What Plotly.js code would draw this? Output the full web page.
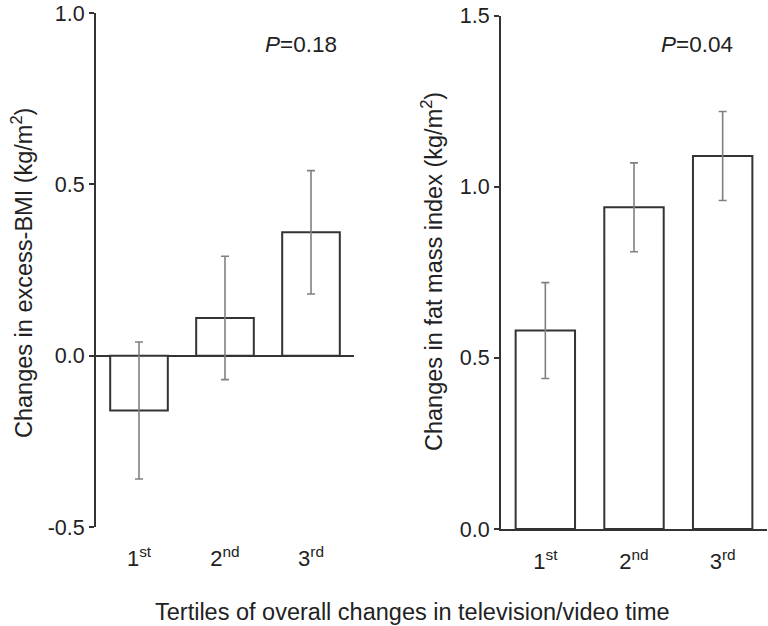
<!DOCTYPE html>
<html>
<head>
<meta charset="utf-8">
<script src="https://cdn.plot.ly/plotly-3.0.1.min.js"></script>
<style>html,body{margin:0;padding:0;background:#fff;}#chart{width:768px;height:626px;}</style>
</head>
<body>
<div id="chart"></div>
<script>
var categories = ['1st', '2nd', '3rd'];
var tickLabels = ['1<sup>st</sup>', '2<sup>nd</sup>', '3<sup>rd</sup>'];
var excessBMI = [-0.16, 0.11, 0.36];
var excessBMIErr = [0.20, 0.18, 0.18];
var fatMassIndex = [0.58, 0.94, 1.09];
var fatMassIndexErr = [0.14, 0.13, 0.13];
var yTickValsLeft = [-0.5, 0.0, 0.5, 1.0];
var yTickTextLeft = ['-0.5', '0.0', '0.5', '1.0'];
var yTickValsRight = [0.0, 0.5, 1.0, 1.5];
var yTickTextRight = ['0.0', '0.5', '1.0', '1.5'];
var pLeft = '<i>P</i>=0.18';
var pRight = '<i>P</i>=0.04';
var yTitleLeft = 'Changes in excess-BMI (kg/m<sup>2</sup>)';
var yTitleRight = 'Changes in fat mass index (kg/m<sup>2</sup>)';
var xTitle = 'Tertiles of overall changes in television/video time';

var FONT = 'Liberation Sans, Arial, Helvetica, sans-serif';
var LINE = '#333333';
var TEXT = '#222222';

function barTrace(y, err, xa, ya) {
  return {
    type: 'bar', x: categories, y: y, xaxis: xa, yaxis: ya,
    width: 0.67,
    marker: {color: '#ffffff', line: {color: LINE, width: 2}},
    error_y: {type: 'data', array: err, visible: true, color: '#808080', thickness: 1.6, width: 4},
    showlegend: false, hoverinfo: 'none'
  };
}

var data = [
  barTrace(excessBMI, excessBMIErr, 'x', 'y'),
  barTrace(fatMassIndex, fatMassIndexErr, 'x2', 'y2')
];

var W = 768, H = 626;
function xd(a, b) { return [a / W, b / W]; }
function yd(top, bottom) { return [(H - bottom) / H, (H - top) / H]; }

var xCommon = {
  type: 'category', range: [-0.5, 2.5], tickvals: categories, ticktext: tickLabels,
  showgrid: false, zeroline: false, ticks: 'outside', ticklen: 12, tickcolor: 'rgba(0,0,0,0)',
  tickfont: {family: FONT, size: 22, color: TEXT}, fixedrange: true
};
var yCommon = {
  showgrid: false, showline: true, linecolor: LINE, linewidth: 2,
  ticks: 'outside', ticklen: 5, tickwidth: 2, tickcolor: LINE,
  tickfont: {family: FONT, size: 21.5, color: TEXT}, fixedrange: true
};

function ann(text, x, y, size, angle) {
  return {text: text, xref: 'paper', yref: 'paper', x: x / W, y: 1 - y / H, showarrow: false,
    textangle: angle || 0, xanchor: 'center', yanchor: 'middle', font: {family: FONT, size: size, color: TEXT}};
}

var layout = {
  width: W, height: H,
  margin: {l: 0, r: 0, t: 0, b: 0},
  paper_bgcolor: '#ffffff', plot_bgcolor: 'rgba(0,0,0,0)',
  xaxis: Object.assign({}, xCommon, {domain: xd(96, 354), anchor: 'y', showline: false}),
  yaxis: Object.assign({}, yCommon, {domain: yd(13, 527), anchor: 'x', range: [-0.5, 1.0],
    tickmode: 'array', tickvals: yTickValsLeft, ticktext: yTickTextLeft,
    zeroline: true, zerolinecolor: LINE, zerolinewidth: 2}),
  xaxis2: Object.assign({}, xCommon, {domain: xd(501, 767), anchor: 'y2', showline: true, linecolor: LINE, linewidth: 2}),
  yaxis2: Object.assign({}, yCommon, {domain: yd(15.7, 529), anchor: 'x2', range: [0, 1.5],
    tickmode: 'array', tickvals: yTickValsRight, ticktext: yTickTextRight, zeroline: false}),
  annotations: [
    ann(pLeft, 301, 45, 22.5),
    ann(pRight, 697, 44, 22.5),
    ann(yTitleLeft, 22, 273, 23.5, -90),
    ann(yTitleRight, 432, 272, 23.5, -90),
    ann(xTitle, 412, 612, 23.5)
  ]
};

Plotly.newPlot('chart', data, layout, {staticPlot: true, displayModeBar: false});
</script>
</body>
</html>
